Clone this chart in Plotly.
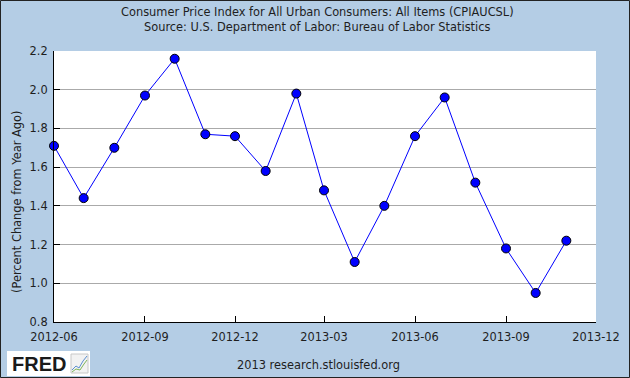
import plotly.graph_objects as go

dates = ["2012-06-01", "2012-07-01", "2012-08-01", "2012-09-01", "2012-10-01", "2012-11-01",
         "2012-12-01", "2013-01-01", "2013-02-01", "2013-03-01", "2013-04-01", "2013-05-01",
         "2013-06-01", "2013-07-01", "2013-08-01", "2013-09-01", "2013-10-01", "2013-11-01"]
cpi_pct = [1.71, 1.44, 1.70, 1.97, 2.16, 1.77, 1.76, 1.58, 1.98, 1.48, 1.11, 1.40,
           1.76, 1.96, 1.52, 1.18, 0.95, 1.22]
x_tickvals = ["2012-06-01", "2012-09-01", "2012-12-01", "2013-03-01", "2013-06-01", "2013-09-01", "2013-12-01"]
x_ticktext = ["2012-06", "2012-09", "2012-12", "2013-03", "2013-06", "2013-09", "2013-12"]
y_tickvals = [0.8, 1.0, 1.2, 1.4, 1.6, 1.8, 2.0, 2.2]

FONT = "DejaVu Sans"
TXT = "#1E1E1E"
BG = "#B4CDE5"

# plot area in pixels: x 54..596, y 51..322
L, R, T, B = 54, 34, 51, 56
PW, PH = 630 - L - R, 378 - T - B


def px(x):
    return (x - L) / PW


def py(y):
    return (378 - B - y) / PH


fig = go.Figure()
fig.add_trace(go.Scatter(
    x=dates, y=cpi_pct, mode="lines+markers",
    line=dict(color="#0000FF", width=1),
    marker=dict(color="#0000FF", size=9, line=dict(color="#000000", width=1)),
    cliponaxis=False, showlegend=False, hoverinfo="skip",
))

shapes = [
    # outer border
    dict(type="rect", xref="paper", yref="paper", x0=px(0.5), x1=px(629.5), y0=py(377.5), y1=py(0.5),
         line=dict(color="#222222", width=1), fillcolor="rgba(0,0,0,0)", layer="above"),
    # FRED logo box
    dict(type="rect", xref="paper", yref="paper", x0=px(7), x1=px(90), y0=py(376), y1=py(351),
         line=dict(width=0), fillcolor="#FFFFFF", layer="above"),
    # icon frame
    dict(type="rect", xref="paper", yref="paper", x0=px(71), x1=px(88), y0=py(373), y1=py(354),
         line=dict(color="#C8C8C8", width=1), fillcolor="#F2F2F2", layer="above"),
    dict(type="path", xref="paper", yref="paper",
         path=f"M {px(72)} {py(370)} L {px(76)} {py(366)} L {px(79)} {py(368)} L {px(83)} {py(361)} L {px(87)} {py(356)}",
         line=dict(color="#5B8FD0", width=1), layer="above"),
    dict(type="path", xref="paper", yref="paper",
         path=f"M {px(72)} {py(372)} L {px(76)} {py(369)} L {px(80)} {py(370)} L {px(84)} {py(364)} L {px(87)} {py(360)}",
         line=dict(color="#7FB55A", width=1), layer="above"),
]

annotations = [
    dict(text="Consumer Price Index for All Urban Consumers: All Items (CPIAUCSL)",
         xref="paper", yref="paper", x=px(317), y=py(12), xanchor="center", yanchor="middle",
         showarrow=False, font=dict(family=FONT, size=11.4, color=TXT)),
    dict(text="Source: U.S. Department of Labor: Bureau of Labor Statistics",
         xref="paper", yref="paper", x=px(317), y=py(27), xanchor="center", yanchor="middle",
         showarrow=False, font=dict(family=FONT, size=11.4, color=TXT)),
    dict(text="(Percent Change from Year Ago)",
         xref="paper", yref="paper", x=px(17), y=py(202), xanchor="center", yanchor="middle",
         textangle=-90, showarrow=False, font=dict(family=FONT, size=11.4, color=TXT)),
    dict(text="2013 research.stlouisfed.org",
         xref="paper", yref="paper", x=px(318), y=py(365), xanchor="center", yanchor="middle",
         showarrow=False, font=dict(family=FONT, size=11.4, color=TXT)),
    dict(text="<b>FRED</b>",
         xref="paper", yref="paper", x=px(10), y=py(364), xanchor="left", yanchor="middle",
         showarrow=False, font=dict(family="Liberation Sans", size=20, color="#1A1A1A")),
]

fig.update_layout(
    width=630, height=378,
    paper_bgcolor=BG, plot_bgcolor="#FFFFFF",
    margin=dict(l=L, r=R, t=T, b=B, autoexpand=False),
    font=dict(family=FONT, size=11.4, color=TXT),
    hovermode=False,
    xaxis=dict(
        type="date", range=["2012-06-01", "2013-12-01"],
        tickmode="array", tickvals=x_tickvals, ticktext=x_ticktext,
        showgrid=False, zeroline=False,
        showline=True, linecolor="#000000", linewidth=1,
        ticks="inside", ticklen=6, tickcolor="#000000",
        ticklabelstandoff=4,
        tickfont=dict(family=FONT, size=11.4, color=TXT),
        automargin=False,
    ),
    yaxis=dict(
        range=[0.8, 2.2], tickmode="array", tickvals=y_tickvals,
        tickformat=".1f",
        showgrid=True, gridcolor="#AAAAAA", gridwidth=1, zeroline=False,
        showline=True, linecolor="#000000", linewidth=1,
        ticks="inside", ticklen=6, tickcolor="#000000",
        ticklabelstandoff=3,
        tickfont=dict(family=FONT, size=11.4, color=TXT),
        automargin=False,
    ),
    shapes=shapes,
    annotations=annotations,
)

fig.write_html("out.html", config={"displayModeBar": False},
               post_script="document.body.style.margin='0';document.body.style.overflow='hidden';")
